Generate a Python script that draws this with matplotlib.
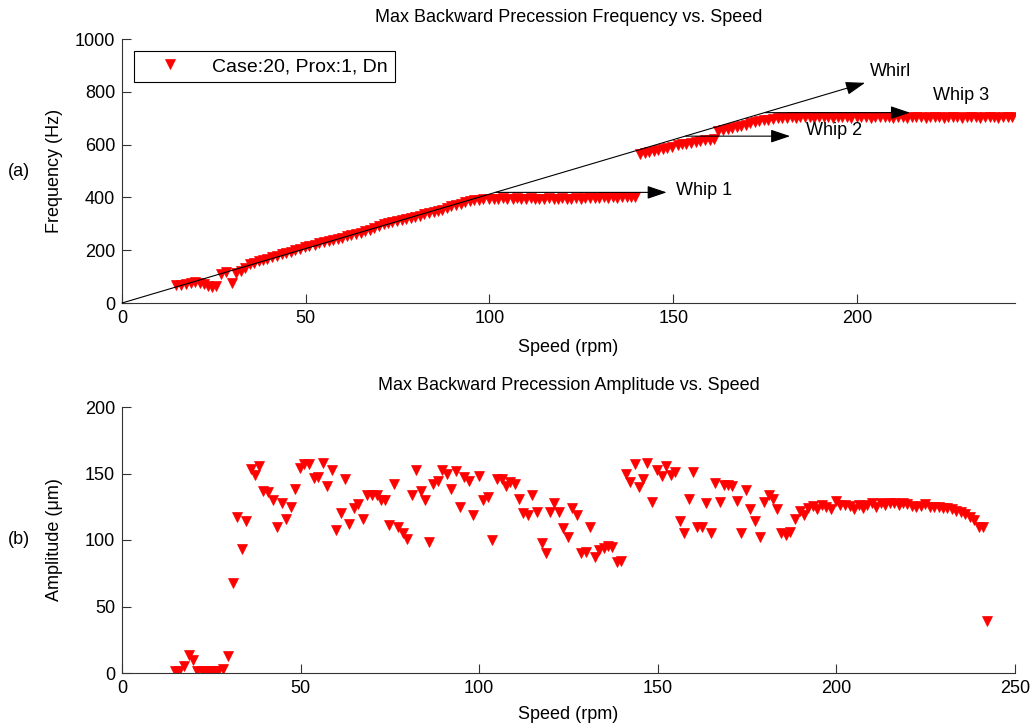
import matplotlib.pyplot as plt

plt.rcParams['font.family'] = ['Liberation Sans', 'DejaVu Sans']

# rotor speed (rpm) for each recorded run
speed = [14.8, 16.0, 17.4, 18.7, 20.0, 21.1, 22.3, 23.5, 24.6, 25.7,
         27.0, 28.2, 29.8, 31.0, 32.3, 33.6, 34.7, 36.0, 37.2, 38.4,
         39.5, 40.9, 42.2, 43.5, 44.7, 45.9, 47.2, 48.4, 49.8, 51.0,
         52.4, 53.7, 55.0, 56.2, 57.5, 58.7, 59.9, 61.2, 62.4, 63.6,
         64.9, 66.1, 67.4, 68.5, 69.9, 71.3, 72.4, 73.6, 74.8, 76.1,
         77.3, 78.6, 79.7, 81.1, 82.3, 83.6, 84.8, 86.0, 87.1, 88.4,
         89.6, 91.0, 92.2, 93.4, 94.6, 95.8, 97.1, 98.3, 99.9, 101.1,
         102.4, 103.7, 104.9, 106.3, 107.5, 108.6, 110.0, 111.2, 112.3, 113.6,
         114.9, 116.1, 117.5, 118.6, 119.8, 121.0, 122.3, 123.5, 124.9, 126.0,
         127.4, 128.6, 129.9, 131.1, 132.3, 133.5, 134.8, 136.1, 137.3, 138.5,
         139.7, 141.0, 142.2, 143.5, 144.7, 145.9, 147.1, 148.4, 149.8, 151.2,
         152.4, 153.6, 154.9, 156.2, 157.4, 158.6, 159.9, 161.1, 162.3, 163.6,
         164.9, 166.1, 167.4, 168.5, 169.7, 170.9, 172.2, 173.4, 174.7, 175.9,
         177.2, 178.5, 179.7, 181.0, 182.3, 183.5, 184.6, 185.8, 187.1, 188.4,
         189.7, 190.9, 192.1, 193.4, 194.7, 196.0, 197.2, 198.5, 199.9, 201.1,
         202.5, 203.7, 205.0, 206.3, 207.5, 208.7, 209.9, 211.2, 212.4, 213.7,
         214.9, 216.1, 217.5, 218.7, 219.9, 221.2, 222.4, 223.6, 224.9, 226.1,
         227.3, 228.7, 229.9, 231.1, 232.4, 233.6, 234.8, 236.1, 237.3, 238.5,
         239.8, 241.0, 242.2]

# max backward precession frequency (Hz)
freq = [68, 70, 73, 77, 78, 76, 71, 65, 62, 63,
        110, 116, 75, 112, 120, 131, 148, 152, 158, 163,
        168, 174, 178, 184, 190, 195, 200, 206, 212, 216,
        221, 226, 231, 236, 240, 243, 248, 252, 256, 260,
        266, 271, 277, 285, 292, 298, 302, 306, 309, 313,
        318, 322, 326, 331, 336, 341, 345, 349, 354, 360,
        366, 371, 375, 381, 386, 390, 392, 395, 395, 394,
        395, 396, 394, 395, 396, 394, 395, 396, 395, 394,
        395, 396, 395, 394, 396, 395, 394, 396, 395, 397,
        398, 397, 399, 400, 398, 400, 399, 400, 401, 400,
        400, 565, 568, 571, 575, 578, 582, 586, 592, 597,
        601, 604, 607, 610, 613, 616, 619, 621, 652, 656,
        660, 664, 668, 672, 675, 680, 684, 688, 692, 695,
        698, 700, 701, 702, 703, 702, 703, 704, 703, 702,
        703, 704, 703, 702, 703, 704, 703, 702, 703, 704,
        703, 702, 703, 704, 703, 703, 702, 704, 703, 702,
        703, 704, 703, 702, 703, 704, 703, 702, 703, 704,
        703, 702, 703, 704, 703, 702, 703, 704, 703, 702,
        703, 704, 703]

# max backward precession amplitude (um)
amp = [1.5, 1.5, 5, 13.5, 10, 1.5, 1.5, 1.5, 1.5, 1.5,
       1.5, 3, 12.5, 68, 117, 93, 114, 153.5, 149, 156,
       137, 136, 130, 110, 127.5, 115.5, 124.5, 138.5, 154, 157.5,
       157.5, 146.7, 147.5, 158, 140.7, 153, 107.5, 120, 146, 112,
       123.7, 126.7, 116, 133.7, 133.7, 133.7, 130, 130, 111, 142,
       109.5, 105.5, 100.5, 134, 153, 137, 130, 98.7, 142, 144.5,
       153, 150, 138.7, 152, 124.5, 147, 144.5, 118.7, 148, 130,
       132.5, 100, 145.7, 145.7, 140.7, 143.5, 142, 131, 120, 118.7,
       134, 121, 97.4, 90, 121, 128, 121, 108.7, 102.4, 123.7,
       118.7, 90.4, 91, 110, 87, 92.4, 93.7, 95.4, 94.5, 83.6,
       84, 150, 143.7, 157, 140, 145.5, 158, 128.7, 152.5, 148,
       155.5, 148.7, 151, 114.4, 105.4, 131, 151, 109.5, 110, 127.5,
       105.4, 143, 128.7, 141, 141.5, 140.7, 129, 105, 137.5, 123.4,
       114, 102, 128.5, 133.5, 130.7, 123, 105, 103.7, 106, 116,
       122, 119, 124, 125.5, 123, 126.5, 125, 123.5, 129, 126,
       126, 125.5, 123, 126, 123.7, 126, 128, 124.5, 127.5, 126,
       127.5, 128, 126, 127.5, 126.7, 125.7, 125, 125.3, 126.7, 124.5,
       125, 125, 123.7, 123.7, 123, 121.7, 121, 119.7, 117, 115,
       110, 110, 39.3]

# annotation arrows: label, start (rpm, Hz), end (rpm, Hz), text position
arrow_labels = ['Whirl', 'Whip 1', 'Whip 2', 'Whip 3']
arrow_start = [(0, 0), (101.7, 419), (153.4, 632), (175.0, 721)]
arrow_end = [(202.2, 834), (148.2, 419), (181.8, 632), (214.4, 721)]
label_pos = [(203.5, 876), (150.7, 427), (186.1, 653), (220.6, 785)]

FS = 13

fig = plt.figure(figsize=(10.34, 7.27), dpi=100)
ax1 = fig.add_axes([122 / 1034, 1 - 303 / 727, 893 / 1034, 264 / 727])
ax2 = fig.add_axes([122 / 1034, 1 - 673 / 727, 893 / 1034, 266 / 727])

ax1.plot(speed, freq, 'v', color='red', ms=7, mec='red', mew=0.5,
         label='Case:20, Prox:1, Dn')
for lab, p0, p1, tp in zip(arrow_labels, arrow_start, arrow_end, label_pos):
    ax1.annotate('', xy=p1, xytext=p0,
                 arrowprops=dict(arrowstyle='-|>,head_length=0.8,head_width=0.27',
                                 mutation_scale=15, color='k', lw=0.8,
                                 shrinkA=0, shrinkB=0))
    ax1.text(tp[0], tp[1], lab, fontsize=FS, ha='left', va='center')

ax1.set_xlim(0, 243)
ax1.set_ylim(0, 1000)
ax1.set_xticks([0, 50, 100, 150, 200])
ax1.set_yticks([0, 200, 400, 600, 800, 1000])
ax1.set_title('Max Backward Precession Frequency vs. Speed', fontsize=FS, pad=12)
ax1.set_xlabel('Speed (rpm)', fontsize=FS)
ax1.set_ylabel('Frequency (Hz)', fontsize=FS)
leg = ax1.legend(loc='upper left', fontsize=14, frameon=True, fancybox=False,
                 edgecolor='k', framealpha=1, handlelength=3, handletextpad=0.7,
                 borderpad=0.35, borderaxespad=0.6)
leg.get_frame().set_linewidth(0.8)

ax2.plot(speed, amp, 'v', color='red', ms=7, mec='red', mew=0.5)
ax2.set_xlim(0, 250)
ax2.set_ylim(0, 200)
ax2.set_xticks([0, 50, 100, 150, 200, 250])
ax2.set_yticks([0, 50, 100, 150, 200])
ax2.set_title('Max Backward Precession Amplitude vs. Speed', fontsize=FS, pad=12)
ax2.set_xlabel('Speed (rpm)', fontsize=FS)
ax2.set_ylabel('Amplitude (\u03bcm)', fontsize=FS)

for ax in (ax1, ax2):
    ax.spines[['top', 'right']].set_visible(False)
    for s in ('left', 'bottom'):
        ax.spines[s].set_linewidth(0.8)
        ax.spines[s].set_color('#333333')
    ax.tick_params(direction='in', length=6.5, width=0.8, labelsize=FS,
                   color='#333333', pad=5)
    ax.yaxis.set_label_coords(-0.066, 0.5)

ax1.xaxis.set_label_coords(0.5, -0.135)
ax2.xaxis.set_label_coords(0.5, -0.125)

fig.text(8 / 1034, 1 - 172 / 727, '(a)', fontsize=FS, va='center')
fig.text(8 / 1034, 1 - 540 / 727, '(b)', fontsize=FS, va='center')

fig.savefig('out.png', dpi=100)
